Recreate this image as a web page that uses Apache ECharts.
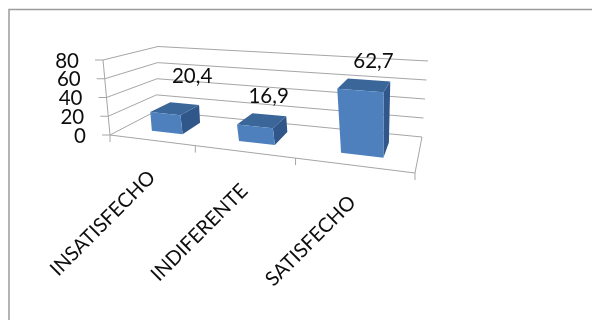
<!DOCTYPE html>
<html>
<head>
<meta charset="utf-8">
<style>html,body{margin:0;padding:0;background:#fff}#chart{width:592px;height:320px}</style>
<script src="https://cdn.jsdelivr.net/npm/echarts@6/dist/echarts.min.js"></script>
</head>
<body>
<div id="chart"></div>
<script>
// Satisfaction survey results, shown as a 3D column chart.
const categories = ['INSATISFECHO', 'INDIFERENTE', 'SATISFECHO'];
const percentages = [20.4, 16.9, 62.7];
const valueTicks = [0, 20, 40, 60, 80];

const FONT = 'Lato, "Open Sans", sans-serif';
const GRID_COLOR = '#a6a6a6';
const BAR_FRONT = '#4d80bd';
const BAR_TOP = '#3a6699';
const BAR_SIDE = '#30568a';

// Flat plotting rectangle used by the axes; its pixels get carried into the 3D box.
const GRID = { left: 100, top: 40, width: 300, height: 100 };
const VALUE_MAX = 80;

// Box corners on screen, ordered front-left, front-right, back-right, back-left.
const FLOOR_QUAD = [[110, 135], [415, 173], [422, 137], [156, 111]];
const CEILING_QUAD = [[103, 60], [420, 85], [428, 61], [158, 46.5]];

// Column footprint inside a category slot and inside the box depth.
const BAR_WIDTH_SHARE = 0.37;
const BAR_SHIFT = 0.012;
const DEPTH_FRONT = 0.28;
const DEPTH_BACK = 0.72;

// Value label nudges relative to the centre of each column top.
const LABEL_SHIFT_X = [17, 6.5, 9];
const LABEL_LIFT = [32, 24, 24];
// Slanted category names: end point relative to the axis point under each slot.
const NAME_SHIFT_X = [1, 1, 0];
const NAME_SHIFT_Y = [34, 36, 34];

// Unit square to quadrilateral projective map.
function squareToQuad(q) {
  const [p0, p1, p2, p3] = q;
  const dx1 = p1[0] - p2[0], dx2 = p3[0] - p2[0], sx = p0[0] - p1[0] + p2[0] - p3[0];
  const dy1 = p1[1] - p2[1], dy2 = p3[1] - p2[1], sy = p0[1] - p1[1] + p2[1] - p3[1];
  const d = dx1 * dy2 - dx2 * dy1;
  const g = (sx * dy2 - dx2 * sy) / d;
  const h = (dx1 * sy - sx * dy1) / d;
  const a = p1[0] - p0[0] + g * p1[0], b = p3[0] - p0[0] + h * p3[0], c = p0[0];
  const e = p1[1] - p0[1] + g * p1[1], f = p3[1] - p0[1] + h * p3[1], i = p0[1];
  return (u, z) => {
    const w = g * u + h * z + 1;
    return [(a * u + b * z + c) / w, (e * u + f * z + i) / w];
  };
}
const floorMap = squareToQuad(FLOOR_QUAD);
const ceilingMap = squareToQuad(CEILING_QUAD);

// u: along categories, v: up the value axis, z: into the depth; all 0..1.
function project(u, v, z) {
  const a = floorMap(u, z), b = ceilingMap(u, z);
  return [a[0] + (b[0] - a[0]) * v, a[1] + (b[1] - a[1]) * v];
}
// Reads an axis-scaled pixel back as box fractions.
function toBox(pixel) {
  return [(pixel[0] - GRID.left) / GRID.width, (GRID.top + GRID.height - pixel[1]) / GRID.height];
}

function line(a, b, width) {
  return {
    type: 'line',
    shape: { x1: a[0], y1: a[1], x2: b[0], y2: b[1] },
    style: { stroke: GRID_COLOR, lineWidth: width || 1 }
  };
}
function face(points, fill) {
  return { type: 'polygon', shape: { points }, style: { fill } };
}
function text(str, x, y, opts) {
  return {
    type: 'text', x, y, rotation: (opts && opts.rotation) || 0,
    style: Object.assign({
      text: str, fill: '#0d0d0d', font: '20.5px ' + FONT, align: 'center', verticalAlign: 'middle'
    }, opts && opts.style)
  };
}

// Walls, floor, ticks and value labels.
function renderFrame(params, api) {
  const out = [];
  valueTicks.forEach(t => {
    const v = toBox(api.coord([0, t]))[1];
    const front = project(0, v, 0), back = project(0, v, 1), right = project(1, v, 1);
    out.push(line(front, back), line(back, right));
    out.push(line(front, [front[0] - 8, front[1]]));
    out.push(text(String(t), front[0] - 24, front[1] + 1, { style: { align: 'right' } }));
  });
  out.push(line(project(0, 0, 0), project(0, 1, 0)));
  out.push(line(project(0, 0, 0), project(1, 0, 0), 1.2));
  out.push(line(project(1, 0, 0), project(1, 0, 1)));
  // Category ticks sit on the slot boundaries.
  const slot = api.size([1, 0])[0] / GRID.width;
  const first = toBox(api.coord([0, 0]))[0] - slot / 2;
  for (let i = 0; i <= categories.length; i++) {
    const p = project(first + slot * i, 0, 0);
    out.push(line(p, [p[0], p[1] + 7]));
  }
  return { type: 'group', children: out };
}

// One column: front, top and right-hand faces.
function renderBar(params, api) {
  const idx = api.value(0);
  const slot = api.size([1, 0])[0] / GRID.width;
  const centre = toBox(api.coord([idx, 0]))[0] + BAR_SHIFT;
  const top = toBox(api.coord([idx, api.value(1)]))[1];
  const u0 = centre - slot * BAR_WIDTH_SHARE / 2, u1 = centre + slot * BAR_WIDTH_SHARE / 2;
  const fl0 = project(u0, 0, DEPTH_FRONT), fr0 = project(u1, 0, DEPTH_FRONT), br0 = project(u1, 0, DEPTH_BACK);
  const fl1 = project(u0, top, DEPTH_FRONT), fr1 = project(u1, top, DEPTH_FRONT);
  const br1 = project(u1, top, DEPTH_BACK), bl1 = project(u0, top, DEPTH_BACK);
  const mid = project(centre, top, 0.5);
  return {
    type: 'group',
    children: [
      face([fr0, br0, br1, fr1], BAR_SIDE),
      face([fl1, fr1, br1, bl1], BAR_TOP),
      face([fl0, fr0, fr1, fl1], BAR_FRONT),
      text(String(api.value(1)).replace('.', ','), mid[0] + LABEL_SHIFT_X[idx], mid[1] - LABEL_LIFT[idx])
    ]
  };
}

// Slanted category names, anchored at their upper-right end.
function renderCategoryLabel(params, api) {
  const idx = api.value(0);
  const p = project(toBox(api.coord([idx, 0]))[0], 0, 0);
  return text(categories[idx], p[0] + NAME_SHIFT_X[idx], p[1] + NAME_SHIFT_Y[idx], {
    rotation: Math.PI / 4,
    style: { align: 'right', font: '20px ' + FONT }
  });
}

const chart = echarts.init(document.getElementById('chart'), null, { renderer: 'canvas' });
chart.setOption({
  animation: false,
  backgroundColor: '#fff',
  grid: GRID,
  xAxis: { type: 'category', data: categories, show: false },
  yAxis: { type: 'value', min: 0, max: VALUE_MAX, interval: 20, show: false },
  graphic: [{
    type: 'polyline',
    shape: { points: [[9, 320], [9, 9.5], [592, 9.5]] },
    style: { stroke: '#9c9c9c', lineWidth: 1.5, fill: null },
    silent: true
  }],
  series: [
    { type: 'custom', renderItem: renderFrame, data: [[0, 0]], silent: true, clip: false, z: 1 },
    { type: 'custom', renderItem: renderBar, silent: true, clip: false, z: 2,
      data: percentages.map((p, i) => [i, p]), encode: { x: 0, y: 1 } },
    { type: 'custom', renderItem: renderCategoryLabel, silent: true, clip: false, z: 3,
      data: categories.map((c, i) => [i, 0]), encode: { x: 0, y: 1 } }
  ]
});
</script>
</body>
</html>
